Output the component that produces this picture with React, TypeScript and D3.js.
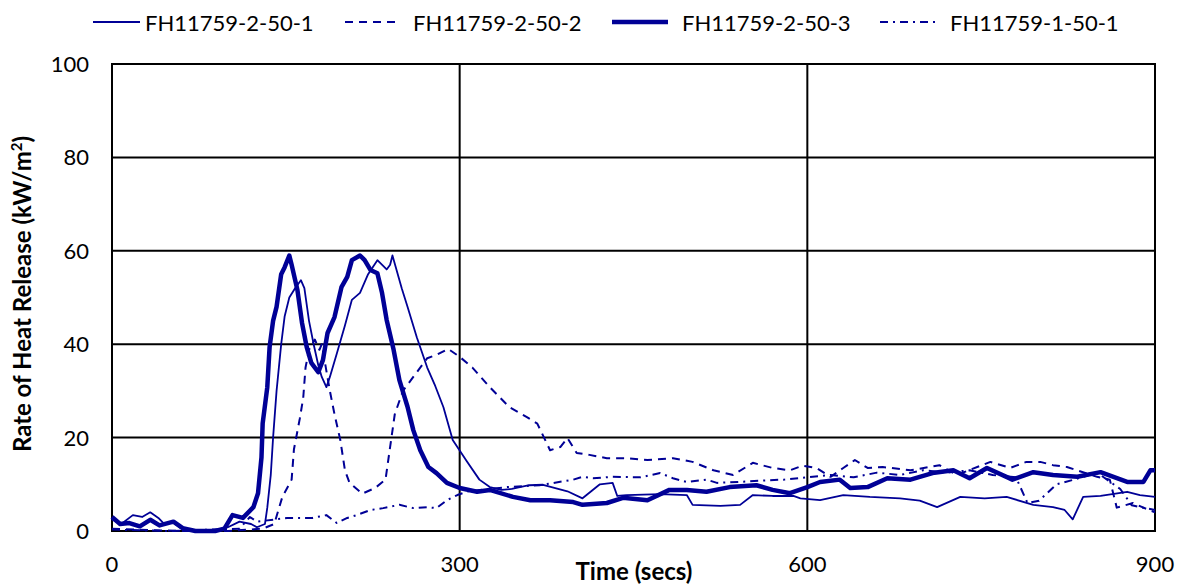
import React from 'react';
import * as d3 from 'd3';

// tick labels
const xTicks = [0, 300, 600, 900];
const yTicks = [0, 20, 40, 60, 80, 100];

// series names
const seriesNames = ['FH11759-2-50-1', 'FH11759-2-50-2', 'FH11759-2-50-3', 'FH11759-1-50-1'];

// FH11759-2-50-1 (thin solid)
const s1Time = [0, 8, 18, 26, 33, 40, 45, 52, 60, 70, 90, 100, 110, 120, 125, 132, 134, 137, 139, 142, 146, 149, 153, 158, 163, 166, 170, 174, 178, 181, 185, 188, 194, 201, 207, 214, 221, 229, 237, 240, 242, 250, 255, 263, 272, 279, 286, 294, 306, 317, 326, 336, 345, 360, 372, 393, 406, 421, 432, 436, 444, 473, 496, 501, 525, 542, 553, 570, 588, 594, 611, 631, 654, 680, 697, 712, 732, 753, 772, 795, 812, 822, 829, 838, 853, 876, 887, 900];
const s1Value = [2.5, 1.5, 3.4, 3, 4, 2.8, 1.5, 2, 0.5, 0, 0, 0.8, 2, 1.5, 0.8, 1.5, 5, 12, 20, 30, 40, 46, 50, 52, 53.7, 52, 45, 40, 35.5, 33, 30.8, 33, 38, 44, 49.5, 51, 55, 58, 56, 57, 59, 52, 48, 41.5, 35, 31, 26.5, 19.5, 15, 11, 9.4, 8.8, 9, 9.8, 9.9, 8.5, 7, 10, 10.3, 7.5, 7.7, 7.9, 7.7, 5.6, 5.4, 5.6, 7.7, 7.5, 7.5, 7, 6.6, 7.7, 7.3, 7, 6.5, 5.1, 7.3, 7, 7.3, 5.6, 5.1, 4.5, 2.5, 7.3, 7.5, 8.4, 7.7, 7.3];

// FH11759-2-50-2 (dashed)
const s2Time = [0, 20, 60, 100, 130, 140, 147, 155, 157, 162, 165, 167, 170, 175, 179, 181, 188, 192, 197, 201, 205, 216, 227, 236, 240, 244, 251, 260, 272, 280, 290, 300, 311, 326, 343, 358, 367, 378, 387, 393, 401, 412, 427, 444, 462, 484, 501, 519, 536, 553, 570, 585, 596, 608, 620, 631, 641, 652, 665, 689, 714, 729, 758, 775, 789, 801, 812, 824, 850, 861, 867, 881, 890, 900];
const s2Value = [0.5, 0.3, 0, 0, 0.5, 1.5, 7.3, 11, 17.5, 24, 28.5, 35, 38.8, 41, 38.8, 40, 30, 25, 19.5, 13, 10.3, 8, 9.2, 11, 18, 25, 30, 33, 37, 37.7, 39, 37.3, 35, 30.8, 26.5, 24.4, 23, 17.3, 18, 19.9, 16.7, 16.3, 15.6, 15.6, 15.2, 15.6, 14.8, 13, 12, 14.6, 13.5, 13, 14, 13.5, 11.6, 13.5, 15.2, 13.5, 13.7, 13, 14.1, 12, 14.8, 13.5, 14.8, 14.8, 14.1, 13.7, 11.6, 11, 5, 6, 5, 4];

// FH11759-2-50-3 (thick solid)
const s3Time = [0, 7, 15, 24, 33, 41, 53, 61, 72, 89, 97, 104, 113, 122, 126, 129, 130, 134, 136, 139, 142, 146, 149, 153, 155, 160, 164, 168, 172, 178, 182, 186, 192, 198, 203, 207, 214, 218, 223, 229, 233, 237, 243, 248, 255, 260, 266, 273, 280, 289, 300, 315, 326, 346, 361, 378, 398, 406, 427, 441, 462, 481, 496, 513, 533, 556, 570, 585, 600, 611, 628, 637, 652, 669, 689, 708, 726, 740, 755, 777, 795, 812, 833, 853, 876, 890, 896, 900];
const s3Value = [3, 1.5, 1.7, 1, 2.4, 1.2, 2, 0.6, 0, 0, 0.5, 3.4, 2.8, 5.1, 8.1, 15.8, 23, 30.8, 39.4, 45, 48, 55, 56.5, 59, 57, 51.6, 44.5, 39.4, 36, 34, 36.6, 42.4, 45.8, 52.2, 54.4, 58, 59, 58, 55.9, 55.2, 51, 45.2, 38.8, 32.3, 26.6, 21.6, 17.3, 13.7, 12.4, 10.3, 9.2, 8.4, 8.8, 7.3, 6.6, 6.6, 6.2, 5.6, 6, 7.1, 6.6, 8.8, 8.8, 8.4, 9.4, 9.8, 8.8, 8.1, 9.4, 10.5, 11, 9.2, 9.4, 11.3, 11, 12.4, 13, 11.3, 13.5, 11, 12.6, 12, 11.6, 12.6, 10.5, 10.5, 13, 13];

// FH11759-1-50-1 (dash-dot)
const s4Time = [0, 50, 110, 119, 125, 151, 173, 185, 194, 203, 211, 223, 234, 248, 260, 272, 280, 289, 298, 307, 341, 369, 398, 406, 415, 432, 456, 473, 484, 496, 513, 522, 540, 560, 580, 600, 620, 640, 660, 680, 700, 720, 740, 760, 780, 790, 800, 815, 830, 850, 870, 880, 890, 900];
const s4Value = [0.3, 0, 0.5, 3, 2, 2.8, 2.8, 3.4, 1.7, 2.8, 3.4, 4.5, 4.9, 5.6, 4.9, 5.1, 4.9, 6.6, 7.7, 8.5, 9.4, 9.8, 11, 11.6, 11.3, 11.6, 11.5, 12.4, 11.3, 10.5, 11, 10.3, 10.5, 10.8, 11, 11.5, 12, 11.5, 12.5, 12, 13, 12.5, 13, 12, 11.5, 6, 6.5, 10, 11, 12.5, 9, 5.5, 5, 4.5];

const COLOR = '#000096';
const FONT = 'Lato, "Open Sans", sans-serif';

const styles = [
  { width: 1.8, dash: null },
  { width: 2, dash: '8,6' },
  { width: 4.5, dash: null },
  { width: 2, dash: '8,5,2,5' },
];

export default function App() {
  const x = d3.scaleLinear().domain([0, 900]).range([112, 1155]);
  const y = d3.scaleLinear().domain([0, 100]).range([531, 64]);

  const series = [
    s1Time.map((t, i) => [t, s1Value[i]]),
    s2Time.map((t, i) => [t, s2Value[i]]),
    s3Time.map((t, i) => [t, s3Value[i]]),
    s4Time.map((t, i) => [t, s4Value[i]]),
  ];

  const line = d3.line<number[]>()
    .x(d => x(d[0]))
    .y(d => y(d[1]));

  // legend positions: [line start, line end, text start]
  const legendPos = [
    [93, 140, 145],
    [345, 401, 413],
    [612, 668, 682],
    [880, 937, 950],
  ];

  return (
    <svg width={1183} height={586} style={{ position: 'absolute', left: 0, top: 0, background: '#fff' }}
      fontFamily={FONT}>
      <rect x={0} y={0} width={1183} height={586} fill="#fff" />

      {/* gridlines */}
      {yTicks.filter(t => t > 0).map(t => (
        <line key={'gy' + t} x1={x(0)} x2={x(900)} y1={y(t)} y2={y(t)} stroke="#000" strokeWidth={2} />
      ))}
      {xTicks.filter(t => t > 0).map(t => (
        <line key={'gx' + t} x1={x(t)} x2={x(t)} y1={y(0)} y2={y(100)} stroke="#000" strokeWidth={2} />
      ))}
      <rect x={x(0)} y={y(100)} width={x(900) - x(0)} height={y(0) - y(100)} fill="none" stroke="#000" strokeWidth={2} />

      {/* series */}
      {series.map((s, i) => (
        <path key={'s' + i} d={line(s) || ''} fill="none" stroke={COLOR}
          strokeWidth={styles[i].width} strokeDasharray={styles[i].dash || undefined}
          strokeLinejoin="round" />
      ))}

      {/* y tick labels */}
      {yTicks.map(t => (
        <text key={'ty' + t} x={89} y={y(t)} dy="0.36em" textAnchor="end" fontSize={22} fill="#000">{t}</text>
      ))}
      {/* x tick labels */}
      {xTicks.map(t => (
        <text key={'tx' + t} x={x(t)} y={572} textAnchor="middle" fontSize={22} fill="#000">{t}</text>
      ))}

      {/* axis titles */}
      <text x={634} y={580} textAnchor="middle" fontSize={24} fontWeight="bold" fill="#000">Time (secs)</text>
      <text transform="translate(31,294) rotate(-90)" textAnchor="middle" fontSize={24} fontWeight="bold" fill="#000">
        Rate of Heat Release (kW/m<tspan dy={-9} fontSize={15}>2</tspan><tspan dy={9}>)</tspan>
      </text>

      {/* legend */}
      {seriesNames.map((name, i) => (
        <g key={'lg' + i}>
          <line x1={legendPos[i][0]} x2={legendPos[i][1]} y1={22} y2={22} stroke={COLOR}
            strokeWidth={styles[i].width} strokeDasharray={styles[i].dash || undefined} />
          <text x={legendPos[i][2]} y={31} fontSize={22} fill="#000">{name}</text>
        </g>
      ))}
    </svg>
  );
}
